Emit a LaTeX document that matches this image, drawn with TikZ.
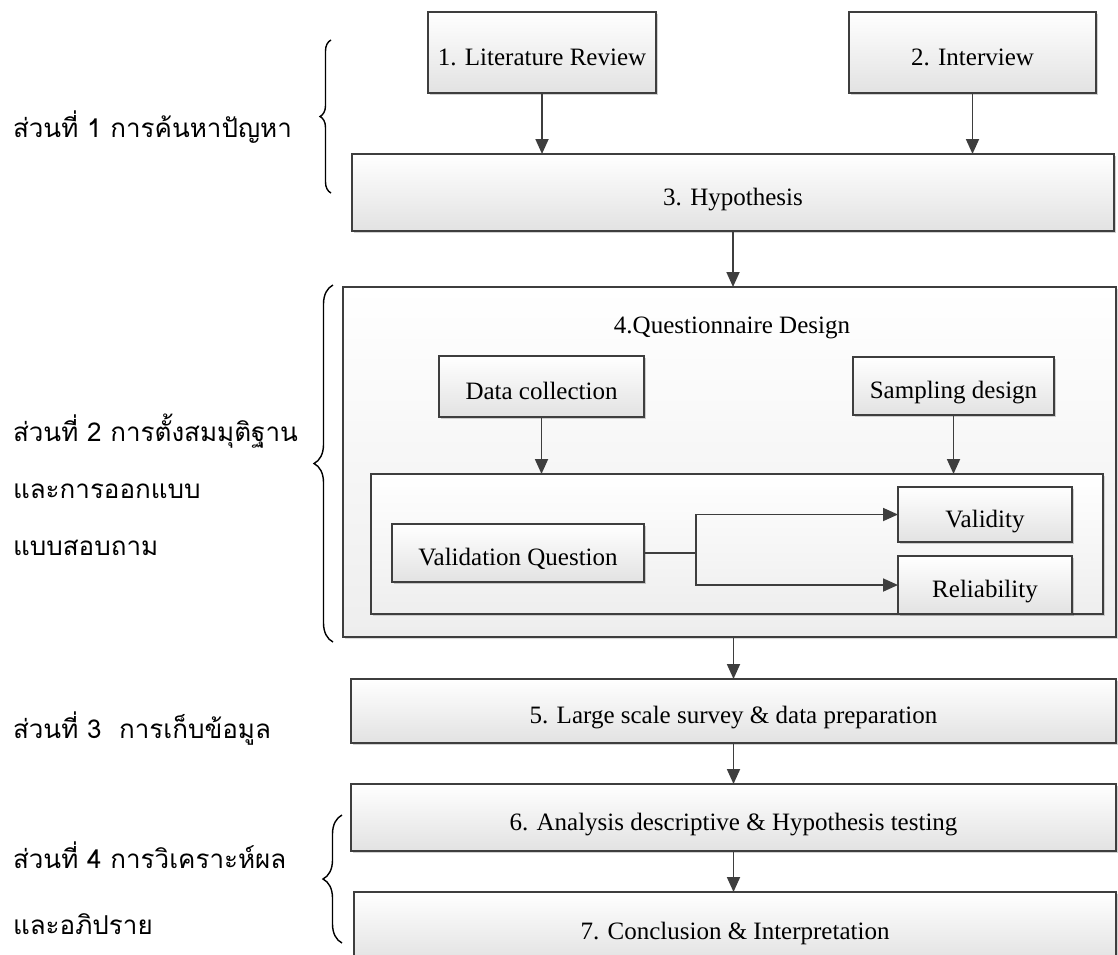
\documentclass[tikz,border=0pt]{standalone}
\usepackage{fontspec}
\setmainfont{Liberation Serif}
\newfontfamily\thaifont[Script=Thai]{Loma}
\usetikzlibrary{arrows.meta,shadows,decorations.pathreplacing,calc}

\definecolor{linegray}{HTML}{3E3E3E}
\definecolor{boxgray}{HTML}{E2E2E2}
\definecolor{panelgray}{HTML}{EEEEEE}

\begin{document}
\begin{tikzpicture}[x=1pt,y=-1pt,
  every node/.style={inner sep=0pt, outer sep=0pt},
  stepbox/.style={draw=linegray, line width=1.8pt, top color=white, bottom color=boxgray,
    text=black, font=\fontsize{25}{30}\selectfont, text height=25pt, text depth=0pt,
    drop shadow={shadow xshift=2pt, shadow yshift=-2pt, opacity=0.18, fill=black}},
  panel/.style={draw=linegray, line width=1.8pt, top color=white, bottom color=panelgray,
    drop shadow={shadow xshift=2pt, shadow yshift=-2pt, opacity=0.15, fill=black}},
  title/.style={anchor=base, font=\fontsize{25}{30}\selectfont, text=black},
  conn/.style={draw=linegray, line width=1.8pt, -{Triangle[length=15pt,width=13pt]}},
  plain/.style={draw=linegray, line width=1.8pt},
  thailabel/.style={anchor=base west, font=\thaifont\fontsize{26}{30}\selectfont, text=black},
  bracket/.style={draw=black, line width=1.4pt, decorate}
]
\path[use as bounding box] (0,0) rectangle (1118,954);
\clip (0,0) rectangle (1118,954);

% part 1: sources and hypothesis
\node[stepbox, minimum width=228pt, minimum height=81pt] (b1) at (542,52.5) {1. Literature Review};
\node[stepbox, minimum width=247pt, minimum height=81pt] (b2) at (972.5,52.5) {2. Interview};
\node[stepbox, minimum width=762pt, minimum height=77pt] (b3) at (733,192.5) {3. Hypothesis};

% part 2: questionnaire design panel
\node[panel, minimum width=773pt, minimum height=350pt] (b4) at (729.5,462) {};
\node[title] (b4t) at (732,333) {4.Questionnaire Design};
\node[stepbox, minimum width=205pt, minimum height=61pt] (dc) at (541.5,386.5) {Data collection};
\node[stepbox, minimum width=201pt, minimum height=58pt] (sd) at (953.5,386) {Sampling design};
\node[panel, minimum width=732pt, minimum height=140pt] (inner) at (737,544) {};
\node[stepbox, minimum width=252pt, minimum height=58pt] (vq) at (518,553) {Validation Question};
\node[stepbox, minimum width=174pt, minimum height=55pt] (val) at (985,514.5) {Validity};
\node[stepbox, minimum width=174pt, minimum height=58pt] (rel) at (985,585) {Reliability};

% parts 3 and 4: survey, analysis, conclusion
\node[stepbox, minimum width=765pt, minimum height=64pt] (b5) at (733.5,711) {5. Large scale survey \& data preparation};
\node[stepbox, minimum width=765pt, minimum height=67pt] (b6) at (733.5,817.5) {6. Analysis descriptive \& Hypothesis testing};
\node[stepbox, minimum width=762pt, minimum height=70pt] (b7) at (735,927) {7. Conclusion \& Interpretation};

% connectors
\draw[conn] (b1.south) -- (b1.south |- b3.north);
\draw[conn] (b2.south) -- (b2.south |- b3.north);
\draw[conn] (b3.south) -- (b3.south |- b4.north);
\draw[conn] (dc.south) -- (dc.south |- inner.north);
\draw[conn] (sd.south) -- (sd.south |- inner.north);
\coordinate (split) at ($(vq.east)+(52,0)$);
\draw[plain] (vq.east) -- (split);
\draw[conn] (split) |- (val.west);
\draw[conn] (split) |- (rel.west);
\draw[conn] (b5.north |- b4.south) -- (b5.north);
\draw[conn] (b5.south) -- (b6.north);
\draw[conn] (b6.south) -- (b6.south |- b7.north);

% section labels with braces
\node[thailabel] (p1) at (13,137) {ส่วนที่ 1 การค้นหาปัญหา};
\draw[bracket, decoration={brace, amplitude=11pt}] (331,193) -- (331,40);

\node[thailabel] (p2a) at (13,441) {ส่วนที่ 2 การตั้งสมมุติฐาน};
\node[thailabel] (p2b) at (13,498) {และการออกแบบ};
\node[thailabel] (p2c) at (13,555) {แบบสอบถาม};
\draw[bracket, decoration={brace, amplitude=19pt}] (333,642) -- (333,285);

\node[thailabel] (p3) at (13,738) {ส่วนที่ 3 \ การเก็บข้อมูล};

\node[thailabel] (p4a) at (13,868) {ส่วนที่ 4 การวิเคราะห์ผล};
\node[thailabel] (p4b) at (13,934) {และอภิปราย};
\draw[bracket, decoration={brace, amplitude=19pt}] (342,943) -- (342,815);
\end{tikzpicture}
\end{document}
